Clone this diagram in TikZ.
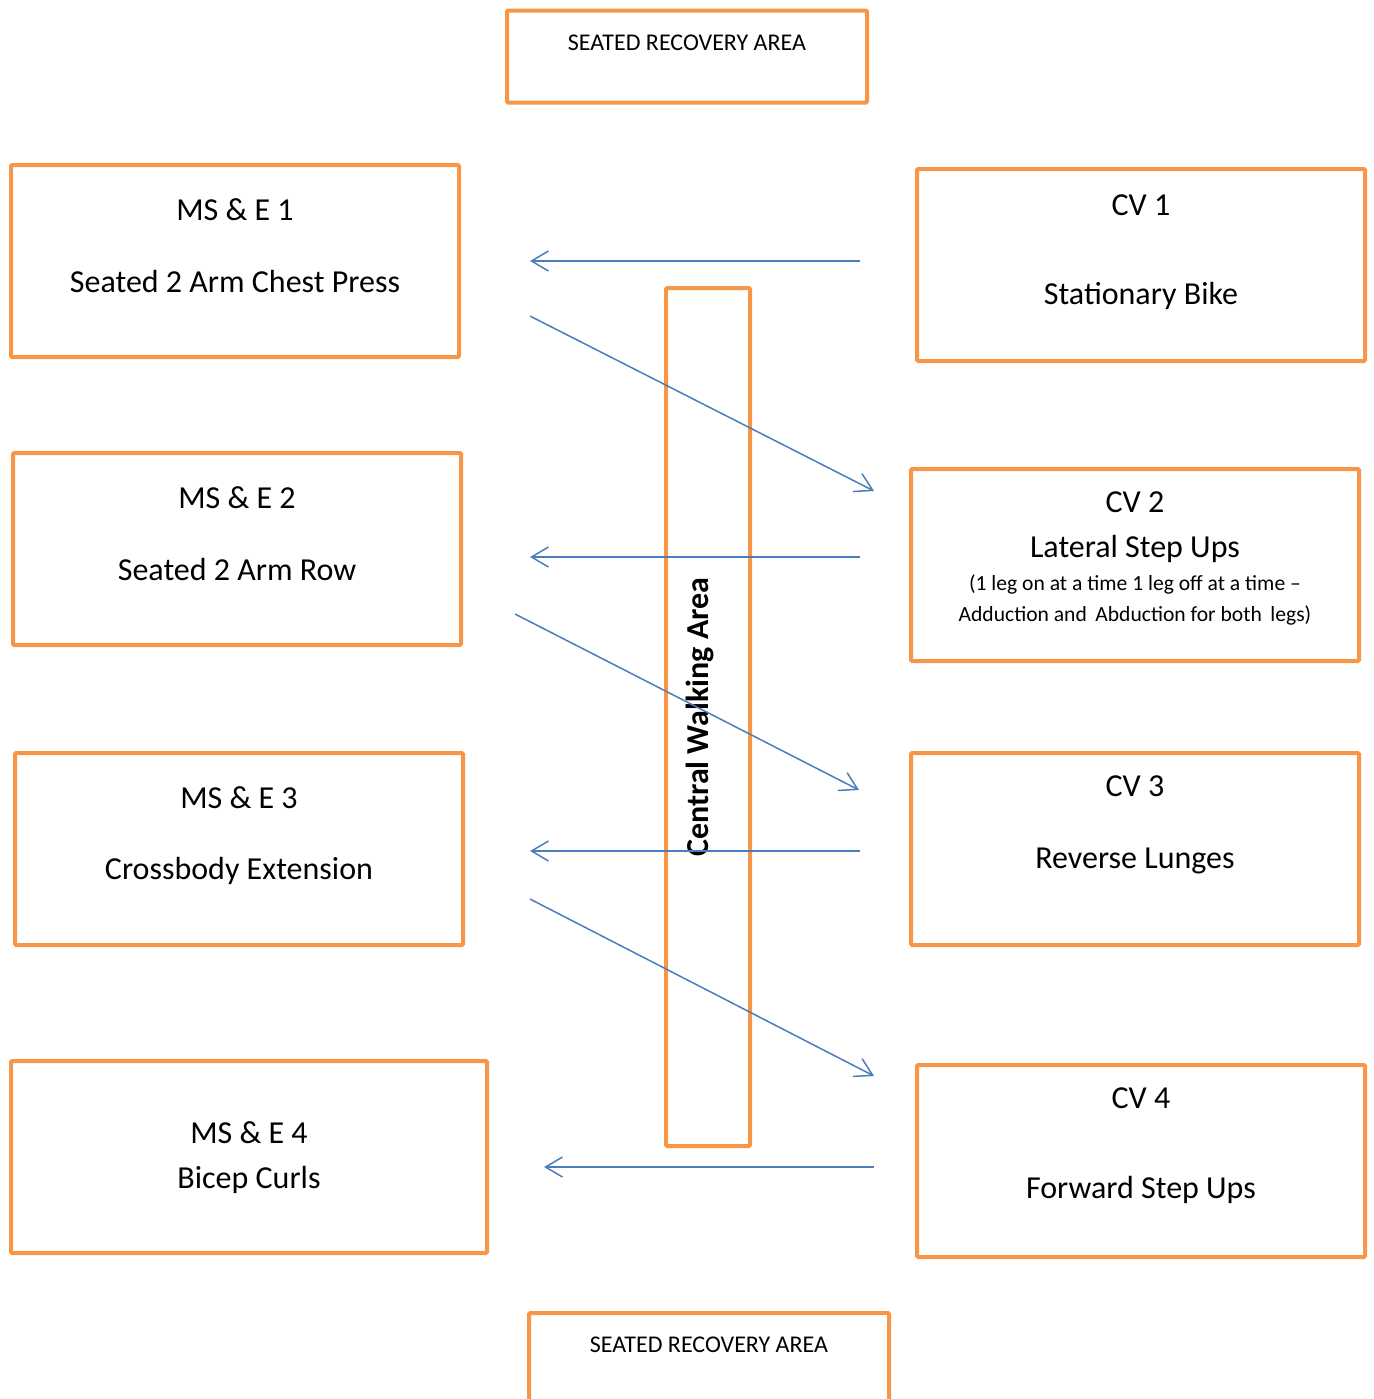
\documentclass[tikz,border=0pt]{standalone}
\usepackage{fontspec}
\setmainfont{Carlito}
\usepackage{xcolor}
\usepackage{tikz}
\usetikzlibrary{arrows.meta,positioning,calc}
\definecolor{boxorange}{HTML}{F79646}
\definecolor{flowblue}{HTML}{4A7EBB}
\newcommand{\stationfont}{\fontsize{16}{19.2}\selectfont}
\newcommand{\notefont}{\fontsize{12}{14.4}\selectfont}
\newcommand{\detailfont}{\fontsize{10.8}{13}\selectfont}

\begin{document}
\begin{tikzpicture}[x = 0.5pt, y = -0.5pt,
    station/.style = {draw = boxorange, line width = 2pt, rounded corners = 0.6pt,
      minimum width = 224pt, minimum height = 96pt, inner sep = 0pt},
    recovery/.style = {station, minimum width = 180pt, minimum height = 46pt},
    title/.style = {anchor = base, font = \stationfont, inner sep = 0pt},
    note/.style = {anchor = base, font = \notefont, inner sep = 0pt},
    flow/.style = {draw = flowblue, line width = 0.75pt,
      -{Straight Barb[length = 8.5pt, width = 10pt]}}]
  \useasboundingbox (0,0) rectangle (1373,1399);
    % Boxes
    \node[recovery] (sratop) at (687,56.5) {};
    \node[recovery] (srabot) at (709,1359) {};
    \node[station] (mse1) at (235,261) {};
    \node[station] (mse2) at (237,549) {};
    \node[station] (mse3) at (239,849) {};
    \node[station, minimum width = 238pt] (mse4) at (249,1157) {};
    \node[station] (cv1) at (1141,265) {};
    \node[station] (cv2) at (1135,565) {};
    \node[station] (cv3) at (1135,849) {};
    \node[station] (cv4) at (1141,1161) {};
    \node[station, minimum width = 42pt, minimum height = 429pt] (walk) at (708,717) {};
    % Texts
    \node[note] (sratopt) at (687,50) {SEATED RECOVERY AREA};
    \node[note] (srabott) at (709,1352) {SEATED RECOVERY AREA};
    \node[title] (mse1a) at (235,220) {MS \& E 1};
    \node[title] (mse1b) at (235,292) {Seated 2 Arm Chest Press};
    \node[title] (mse2a) at (237,508) {MS \& E 2};
    \node[title] (mse2b) at (237,580) {Seated 2 Arm Row};
    \node[title] (mse3a) at (239,808) {MS \& E 3};
    \node[title] (mse3b) at (239,879) {Crossbody Extension};
    \node[title] (mse4a) at (249,1143) {MS \& E 4};
    \node[title] (mse4b) at (249,1188) {Bicep Curls};
    \node[title] (cv1a) at (1141,215) {CV 1};
    \node[title] (cv1b) at (1141,304) {Stationary Bike};
    \node[title] (cv2a) at (1135,512) {CV 2};
    \node[title] (cv2b) at (1135,557) {Lateral Step Ups};
    \node[note, font = \detailfont] (cv2c) at (1135,590) {(1 leg on at a time 1 leg off at a time --};
    \node[note, font = \detailfont] (cv2d) at (1135,621) {Adduction and\, Abduction for both\, legs)};
    \node[title] (cv3a) at (1135,796) {CV 3};
    \node[title] (cv3b) at (1135,868) {Reverse Lunges};
    \node[title] (cv4a) at (1141,1108) {CV 4};
    \node[title] (cv4b) at (1141,1198) {Forward Step Ups};
    \node[font = \stationfont\bfseries, rotate = 90, inner sep = 0pt] (walkt) at (700,717) {Central Walking Area};
    % Flow
    \coordinate (ret1s) at (860,261);  \coordinate (ret1e) at (530,261);
    \coordinate (go1s) at (530,316);   \coordinate (go1e) at (874,491);
    \coordinate (ret2s) at (860,557);  \coordinate (ret2e) at (530,557);
    \coordinate (go2s) at (515,614);   \coordinate (go2e) at (859,790);
    \coordinate (ret3s) at (860,851);  \coordinate (ret3e) at (530,851);
    \coordinate (go3s) at (530,899);   \coordinate (go3e) at (874,1076);
    \coordinate (ret4s) at (874,1167); \coordinate (ret4e) at (544,1167);
    \draw[flow] (ret1s) -- (ret1e);
    \draw[flow] (go1s) -- (go1e);
    \draw[flow] (ret2s) -- (ret2e);
    \draw[flow] (go2s) -- (go2e);
    \draw[flow] (ret3s) -- (ret3e);
    \draw[flow] (go3s) -- (go3e);
    \draw[flow] (ret4s) -- (ret4e);
  \end{tikzpicture}
\end{document}
